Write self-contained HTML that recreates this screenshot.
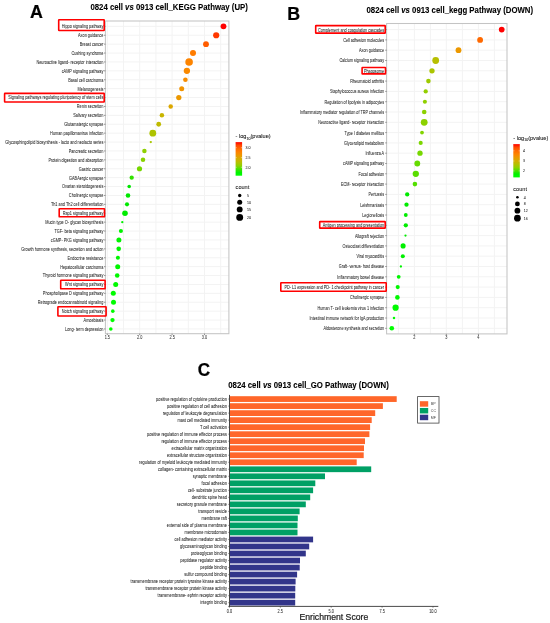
<!DOCTYPE html>
<html><head><meta charset="utf-8"><style>
html,body{margin:0;padding:0;background:#fff;}
body{width:550px;height:623px;overflow:hidden;font-family:"Liberation Sans",sans-serif;}
svg{display:block;}
</style></head><body>
<svg width="550" height="623" viewBox="0 0 550 623" font-family="Liberation Sans" >
<rect width="550" height="623" fill="#fff"/>
<defs><filter id="bl" x="0" y="0" width="550" height="623" filterUnits="userSpaceOnUse"><feGaussianBlur stdDeviation="0.5"/></filter></defs>
<g filter="url(#bl)">
<rect x="105.4" y="21.0" width="123.50" height="312.70" fill="#fff"/>
<line x1="123.5" y1="21.0" x2="123.5" y2="333.7" stroke="#f3f3f3" stroke-width="1.0"/>
<line x1="155.9" y1="21.0" x2="155.9" y2="333.7" stroke="#f3f3f3" stroke-width="1.0"/>
<line x1="188.3" y1="21.0" x2="188.3" y2="333.7" stroke="#f3f3f3" stroke-width="1.0"/>
<line x1="220.7" y1="21.0" x2="220.7" y2="333.7" stroke="#f3f3f3" stroke-width="1.0"/>
<line x1="107.3" y1="21.0" x2="107.3" y2="333.7" stroke="#f3f3f3" stroke-width="1.0"/>
<line x1="139.7" y1="21.0" x2="139.7" y2="333.7" stroke="#f3f3f3" stroke-width="1.0"/>
<line x1="172.1" y1="21.0" x2="172.1" y2="333.7" stroke="#f3f3f3" stroke-width="1.0"/>
<line x1="204.5" y1="21.0" x2="204.5" y2="333.7" stroke="#f3f3f3" stroke-width="1.0"/>
<line x1="105.4" y1="26.35" x2="228.9" y2="26.35" stroke="#f3f3f3" stroke-width="1.0"/>
<line x1="105.4" y1="35.25" x2="228.9" y2="35.25" stroke="#f3f3f3" stroke-width="1.0"/>
<line x1="105.4" y1="44.15" x2="228.9" y2="44.15" stroke="#f3f3f3" stroke-width="1.0"/>
<line x1="105.4" y1="53.05" x2="228.9" y2="53.05" stroke="#f3f3f3" stroke-width="1.0"/>
<line x1="105.4" y1="61.95" x2="228.9" y2="61.95" stroke="#f3f3f3" stroke-width="1.0"/>
<line x1="105.4" y1="70.85" x2="228.9" y2="70.85" stroke="#f3f3f3" stroke-width="1.0"/>
<line x1="105.4" y1="79.75" x2="228.9" y2="79.75" stroke="#f3f3f3" stroke-width="1.0"/>
<line x1="105.4" y1="88.65" x2="228.9" y2="88.65" stroke="#f3f3f3" stroke-width="1.0"/>
<line x1="105.4" y1="97.55" x2="228.9" y2="97.55" stroke="#f3f3f3" stroke-width="1.0"/>
<line x1="105.4" y1="106.45" x2="228.9" y2="106.45" stroke="#f3f3f3" stroke-width="1.0"/>
<line x1="105.4" y1="115.35" x2="228.9" y2="115.35" stroke="#f3f3f3" stroke-width="1.0"/>
<line x1="105.4" y1="124.25" x2="228.9" y2="124.25" stroke="#f3f3f3" stroke-width="1.0"/>
<line x1="105.4" y1="133.15" x2="228.9" y2="133.15" stroke="#f3f3f3" stroke-width="1.0"/>
<line x1="105.4" y1="142.05" x2="228.9" y2="142.05" stroke="#f3f3f3" stroke-width="1.0"/>
<line x1="105.4" y1="150.95" x2="228.9" y2="150.95" stroke="#f3f3f3" stroke-width="1.0"/>
<line x1="105.4" y1="159.85" x2="228.9" y2="159.85" stroke="#f3f3f3" stroke-width="1.0"/>
<line x1="105.4" y1="168.75" x2="228.9" y2="168.75" stroke="#f3f3f3" stroke-width="1.0"/>
<line x1="105.4" y1="177.65" x2="228.9" y2="177.65" stroke="#f3f3f3" stroke-width="1.0"/>
<line x1="105.4" y1="186.55" x2="228.9" y2="186.55" stroke="#f3f3f3" stroke-width="1.0"/>
<line x1="105.4" y1="195.45" x2="228.9" y2="195.45" stroke="#f3f3f3" stroke-width="1.0"/>
<line x1="105.4" y1="204.35" x2="228.9" y2="204.35" stroke="#f3f3f3" stroke-width="1.0"/>
<line x1="105.4" y1="213.25" x2="228.9" y2="213.25" stroke="#f3f3f3" stroke-width="1.0"/>
<line x1="105.4" y1="222.15" x2="228.9" y2="222.15" stroke="#f3f3f3" stroke-width="1.0"/>
<line x1="105.4" y1="231.05" x2="228.9" y2="231.05" stroke="#f3f3f3" stroke-width="1.0"/>
<line x1="105.4" y1="239.95" x2="228.9" y2="239.95" stroke="#f3f3f3" stroke-width="1.0"/>
<line x1="105.4" y1="248.85" x2="228.9" y2="248.85" stroke="#f3f3f3" stroke-width="1.0"/>
<line x1="105.4" y1="257.75" x2="228.9" y2="257.75" stroke="#f3f3f3" stroke-width="1.0"/>
<line x1="105.4" y1="266.65" x2="228.9" y2="266.65" stroke="#f3f3f3" stroke-width="1.0"/>
<line x1="105.4" y1="275.55" x2="228.9" y2="275.55" stroke="#f3f3f3" stroke-width="1.0"/>
<line x1="105.4" y1="284.45" x2="228.9" y2="284.45" stroke="#f3f3f3" stroke-width="1.0"/>
<line x1="105.4" y1="293.35" x2="228.9" y2="293.35" stroke="#f3f3f3" stroke-width="1.0"/>
<line x1="105.4" y1="302.25" x2="228.9" y2="302.25" stroke="#f3f3f3" stroke-width="1.0"/>
<line x1="105.4" y1="311.15" x2="228.9" y2="311.15" stroke="#f3f3f3" stroke-width="1.0"/>
<line x1="105.4" y1="320.05" x2="228.9" y2="320.05" stroke="#f3f3f3" stroke-width="1.0"/>
<line x1="105.4" y1="328.95" x2="228.9" y2="328.95" stroke="#f3f3f3" stroke-width="1.0"/>
<rect x="105.4" y="21.0" width="123.50" height="312.70" fill="none" stroke="#c4c4c4" stroke-width="1.05"/>
<line x1="104.00" y1="26.35" x2="105.4" y2="26.35" stroke="#333" stroke-width="0.5"/>
<text transform="translate(103.40 28.25) scale(0.8550 1)" font-size="4.503" text-anchor="end" fill="#222" stroke="#333" stroke-width="0.044">Hippo signaling pathway</text>
<line x1="104.00" y1="35.25" x2="105.4" y2="35.25" stroke="#333" stroke-width="0.5"/>
<text transform="translate(103.40 37.15) scale(0.8550 1)" font-size="4.503" text-anchor="end" fill="#222" stroke="#333" stroke-width="0.044">Axon guidance</text>
<line x1="104.00" y1="44.15" x2="105.4" y2="44.15" stroke="#333" stroke-width="0.5"/>
<text transform="translate(103.40 46.05) scale(0.8550 1)" font-size="4.503" text-anchor="end" fill="#222" stroke="#333" stroke-width="0.044">Breast cancer</text>
<line x1="104.00" y1="53.05" x2="105.4" y2="53.05" stroke="#333" stroke-width="0.5"/>
<text transform="translate(103.40 54.95) scale(0.8550 1)" font-size="4.503" text-anchor="end" fill="#222" stroke="#333" stroke-width="0.044">Cushing syndrome</text>
<line x1="104.00" y1="61.95" x2="105.4" y2="61.95" stroke="#333" stroke-width="0.5"/>
<text transform="translate(103.40 63.85) scale(0.8550 1)" font-size="4.503" text-anchor="end" fill="#222" stroke="#333" stroke-width="0.044">Neuroactive ligand- receptor interaction</text>
<line x1="104.00" y1="70.85" x2="105.4" y2="70.85" stroke="#333" stroke-width="0.5"/>
<text transform="translate(103.40 72.75) scale(0.8550 1)" font-size="4.503" text-anchor="end" fill="#222" stroke="#333" stroke-width="0.044">cAMP signaling pathway</text>
<line x1="104.00" y1="79.75" x2="105.4" y2="79.75" stroke="#333" stroke-width="0.5"/>
<text transform="translate(103.40 81.65) scale(0.8550 1)" font-size="4.503" text-anchor="end" fill="#222" stroke="#333" stroke-width="0.044">Basal cell carcinoma</text>
<line x1="104.00" y1="88.65" x2="105.4" y2="88.65" stroke="#333" stroke-width="0.5"/>
<text transform="translate(103.40 90.55) scale(0.8550 1)" font-size="4.503" text-anchor="end" fill="#222" stroke="#333" stroke-width="0.044">Melanogenesis</text>
<line x1="104.00" y1="97.55" x2="105.4" y2="97.55" stroke="#333" stroke-width="0.5"/>
<text transform="translate(103.40 99.45) scale(0.8550 1)" font-size="4.503" text-anchor="end" fill="#222" stroke="#333" stroke-width="0.044">Signaling pathways regulating pluripotency of stem cells</text>
<line x1="104.00" y1="106.45" x2="105.4" y2="106.45" stroke="#333" stroke-width="0.5"/>
<text transform="translate(103.40 108.35) scale(0.8550 1)" font-size="4.503" text-anchor="end" fill="#222" stroke="#333" stroke-width="0.044">Renin secretion</text>
<line x1="104.00" y1="115.35" x2="105.4" y2="115.35" stroke="#333" stroke-width="0.5"/>
<text transform="translate(103.40 117.25) scale(0.8550 1)" font-size="4.503" text-anchor="end" fill="#222" stroke="#333" stroke-width="0.044">Salivary secretion</text>
<line x1="104.00" y1="124.25" x2="105.4" y2="124.25" stroke="#333" stroke-width="0.5"/>
<text transform="translate(103.40 126.15) scale(0.8550 1)" font-size="4.503" text-anchor="end" fill="#222" stroke="#333" stroke-width="0.044">Glutamatergic synapse</text>
<line x1="104.00" y1="133.15" x2="105.4" y2="133.15" stroke="#333" stroke-width="0.5"/>
<text transform="translate(103.40 135.05) scale(0.8550 1)" font-size="4.503" text-anchor="end" fill="#222" stroke="#333" stroke-width="0.044">Human papillomavirus infection</text>
<line x1="104.00" y1="142.05" x2="105.4" y2="142.05" stroke="#333" stroke-width="0.5"/>
<text transform="translate(103.40 143.95) scale(0.8550 1)" font-size="4.503" text-anchor="end" fill="#222" stroke="#333" stroke-width="0.044">Glycosphingolipid biosynthesis -  lacto and neolacto series</text>
<line x1="104.00" y1="150.95" x2="105.4" y2="150.95" stroke="#333" stroke-width="0.5"/>
<text transform="translate(103.40 152.85) scale(0.8550 1)" font-size="4.503" text-anchor="end" fill="#222" stroke="#333" stroke-width="0.044">Pancreatic secretion</text>
<line x1="104.00" y1="159.85" x2="105.4" y2="159.85" stroke="#333" stroke-width="0.5"/>
<text transform="translate(103.40 161.75) scale(0.8550 1)" font-size="4.503" text-anchor="end" fill="#222" stroke="#333" stroke-width="0.044">Protein digestion and absorption</text>
<line x1="104.00" y1="168.75" x2="105.4" y2="168.75" stroke="#333" stroke-width="0.5"/>
<text transform="translate(103.40 170.65) scale(0.8550 1)" font-size="4.503" text-anchor="end" fill="#222" stroke="#333" stroke-width="0.044">Gastric cancer</text>
<line x1="104.00" y1="177.65" x2="105.4" y2="177.65" stroke="#333" stroke-width="0.5"/>
<text transform="translate(103.40 179.55) scale(0.8550 1)" font-size="4.503" text-anchor="end" fill="#222" stroke="#333" stroke-width="0.044">GABAergic synapse</text>
<line x1="104.00" y1="186.55" x2="105.4" y2="186.55" stroke="#333" stroke-width="0.5"/>
<text transform="translate(103.40 188.45) scale(0.8550 1)" font-size="4.503" text-anchor="end" fill="#222" stroke="#333" stroke-width="0.044">Ovarian steroidogenesis</text>
<line x1="104.00" y1="195.45" x2="105.4" y2="195.45" stroke="#333" stroke-width="0.5"/>
<text transform="translate(103.40 197.35) scale(0.8550 1)" font-size="4.503" text-anchor="end" fill="#222" stroke="#333" stroke-width="0.044">Cholinergic synapse</text>
<line x1="104.00" y1="204.35" x2="105.4" y2="204.35" stroke="#333" stroke-width="0.5"/>
<text transform="translate(103.40 206.25) scale(0.8550 1)" font-size="4.503" text-anchor="end" fill="#222" stroke="#333" stroke-width="0.044">Th1 and Th2 cell differentiation</text>
<line x1="104.00" y1="213.25" x2="105.4" y2="213.25" stroke="#333" stroke-width="0.5"/>
<text transform="translate(103.40 215.15) scale(0.8550 1)" font-size="4.503" text-anchor="end" fill="#222" stroke="#333" stroke-width="0.044">Rap1 signaling pathway</text>
<line x1="104.00" y1="222.15" x2="105.4" y2="222.15" stroke="#333" stroke-width="0.5"/>
<text transform="translate(103.40 224.05) scale(0.8550 1)" font-size="4.503" text-anchor="end" fill="#222" stroke="#333" stroke-width="0.044">Mucin type O- glycan biosynthesis</text>
<line x1="104.00" y1="231.05" x2="105.4" y2="231.05" stroke="#333" stroke-width="0.5"/>
<text transform="translate(103.40 232.95) scale(0.8550 1)" font-size="4.503" text-anchor="end" fill="#222" stroke="#333" stroke-width="0.044">TGF- beta signaling pathway</text>
<line x1="104.00" y1="239.95" x2="105.4" y2="239.95" stroke="#333" stroke-width="0.5"/>
<text transform="translate(103.40 241.85) scale(0.8550 1)" font-size="4.503" text-anchor="end" fill="#222" stroke="#333" stroke-width="0.044">cGMP- PKG signaling pathway</text>
<line x1="104.00" y1="248.85" x2="105.4" y2="248.85" stroke="#333" stroke-width="0.5"/>
<text transform="translate(103.40 250.75) scale(0.8550 1)" font-size="4.503" text-anchor="end" fill="#222" stroke="#333" stroke-width="0.044">Growth hormone synthesis, secretion and action</text>
<line x1="104.00" y1="257.75" x2="105.4" y2="257.75" stroke="#333" stroke-width="0.5"/>
<text transform="translate(103.40 259.65) scale(0.8550 1)" font-size="4.503" text-anchor="end" fill="#222" stroke="#333" stroke-width="0.044">Endocrine resistance</text>
<line x1="104.00" y1="266.65" x2="105.4" y2="266.65" stroke="#333" stroke-width="0.5"/>
<text transform="translate(103.40 268.55) scale(0.8550 1)" font-size="4.503" text-anchor="end" fill="#222" stroke="#333" stroke-width="0.044">Hepatocellular carcinoma</text>
<line x1="104.00" y1="275.55" x2="105.4" y2="275.55" stroke="#333" stroke-width="0.5"/>
<text transform="translate(103.40 277.45) scale(0.8550 1)" font-size="4.503" text-anchor="end" fill="#222" stroke="#333" stroke-width="0.044">Thyroid hormone signaling pathway</text>
<line x1="104.00" y1="284.45" x2="105.4" y2="284.45" stroke="#333" stroke-width="0.5"/>
<text transform="translate(103.40 286.35) scale(0.8550 1)" font-size="4.503" text-anchor="end" fill="#222" stroke="#333" stroke-width="0.044">Wnt signaling pathway</text>
<line x1="104.00" y1="293.35" x2="105.4" y2="293.35" stroke="#333" stroke-width="0.5"/>
<text transform="translate(103.40 295.25) scale(0.8550 1)" font-size="4.503" text-anchor="end" fill="#222" stroke="#333" stroke-width="0.044">Phospholipase D signaling pathway</text>
<line x1="104.00" y1="302.25" x2="105.4" y2="302.25" stroke="#333" stroke-width="0.5"/>
<text transform="translate(103.40 304.15) scale(0.8550 1)" font-size="4.503" text-anchor="end" fill="#222" stroke="#333" stroke-width="0.044">Retrograde endocannabinoid signaling</text>
<line x1="104.00" y1="311.15" x2="105.4" y2="311.15" stroke="#333" stroke-width="0.5"/>
<text transform="translate(103.40 313.05) scale(0.8550 1)" font-size="4.503" text-anchor="end" fill="#222" stroke="#333" stroke-width="0.044">Notch signaling pathway</text>
<line x1="104.00" y1="320.05" x2="105.4" y2="320.05" stroke="#333" stroke-width="0.5"/>
<text transform="translate(103.40 321.95) scale(0.8550 1)" font-size="4.503" text-anchor="end" fill="#222" stroke="#333" stroke-width="0.044">Amoebiasis</text>
<line x1="104.00" y1="328.95" x2="105.4" y2="328.95" stroke="#333" stroke-width="0.5"/>
<text transform="translate(103.40 330.85) scale(0.8550 1)" font-size="4.503" text-anchor="end" fill="#222" stroke="#333" stroke-width="0.044">Long- term depression</text>
<line x1="107.3" y1="333.7" x2="107.3" y2="335.09999999999997" stroke="#333" stroke-width="0.5"/>
<text transform="translate(107.30 339.10) scale(0.8550 1)" font-size="4.503" text-anchor="middle" fill="#333" stroke="#333" stroke-width="0.044">1.5</text>
<line x1="139.7" y1="333.7" x2="139.7" y2="335.09999999999997" stroke="#333" stroke-width="0.5"/>
<text transform="translate(139.70 339.10) scale(0.8550 1)" font-size="4.503" text-anchor="middle" fill="#333" stroke="#333" stroke-width="0.044">2.0</text>
<line x1="172.1" y1="333.7" x2="172.1" y2="335.09999999999997" stroke="#333" stroke-width="0.5"/>
<text transform="translate(172.10 339.10) scale(0.8550 1)" font-size="4.503" text-anchor="middle" fill="#333" stroke="#333" stroke-width="0.044">2.5</text>
<line x1="204.5" y1="333.7" x2="204.5" y2="335.09999999999997" stroke="#333" stroke-width="0.5"/>
<text transform="translate(204.50 339.10) scale(0.8550 1)" font-size="4.503" text-anchor="middle" fill="#333" stroke="#333" stroke-width="0.044">3.0</text>
<circle cx="223.5" cy="26.35" r="2.90" fill="#ff0000"/>
<circle cx="216.2" cy="35.25" r="3.10" fill="#ff3700"/>
<circle cx="206.0" cy="44.15" r="2.90" fill="#ff5c00"/>
<circle cx="193.0" cy="53.05" r="3.00" fill="#ff7c00"/>
<circle cx="189.1" cy="61.95" r="3.80" fill="#fd8400"/>
<circle cx="186.9" cy="70.85" r="3.15" fill="#fa8900"/>
<circle cx="185.4" cy="79.75" r="2.30" fill="#f78c00"/>
<circle cx="181.7" cy="88.65" r="2.50" fill="#f19300"/>
<circle cx="178.8" cy="97.55" r="2.65" fill="#ec9800"/>
<circle cx="170.7" cy="106.45" r="2.25" fill="#dca700"/>
<circle cx="161.9" cy="115.35" r="2.25" fill="#c8b500"/>
<circle cx="158.7" cy="124.25" r="2.40" fill="#bfba00"/>
<circle cx="152.8" cy="133.15" r="3.40" fill="#aec300"/>
<circle cx="150.8" cy="142.05" r="1.15" fill="#a7c600"/>
<circle cx="144.4" cy="150.95" r="2.25" fill="#8ed000"/>
<circle cx="143.0" cy="159.85" r="2.25" fill="#88d200"/>
<circle cx="139.5" cy="168.75" r="2.60" fill="#76d700"/>
<circle cx="131.7" cy="177.65" r="2.15" fill="#31e200"/>
<circle cx="129.2" cy="186.55" r="1.80" fill="#00e600"/>
<circle cx="128.0" cy="195.45" r="2.30" fill="#00e800"/>
<circle cx="127.0" cy="204.35" r="2.05" fill="#00e900"/>
<circle cx="125.0" cy="213.25" r="2.80" fill="#00ec00"/>
<circle cx="122.3" cy="222.15" r="1.15" fill="#00f000"/>
<circle cx="120.9" cy="231.05" r="2.05" fill="#00f200"/>
<circle cx="118.9" cy="239.95" r="2.50" fill="#00f400"/>
<circle cx="118.7" cy="248.85" r="2.30" fill="#00f500"/>
<circle cx="117.9" cy="257.75" r="2.05" fill="#00f600"/>
<circle cx="117.7" cy="266.65" r="2.50" fill="#00f600"/>
<circle cx="117.2" cy="275.55" r="2.30" fill="#00f700"/>
<circle cx="115.7" cy="284.45" r="2.50" fill="#00f900"/>
<circle cx="113.3" cy="293.35" r="2.50" fill="#00fc00"/>
<circle cx="113.5" cy="302.25" r="2.50" fill="#00fc00"/>
<circle cx="112.8" cy="311.15" r="1.80" fill="#00fd00"/>
<circle cx="112.5" cy="320.05" r="2.15" fill="#00fd00"/>
<circle cx="110.8" cy="328.95" r="1.80" fill="#00ff00"/>
<rect x="58.70" y="19.70" width="45.50" height="10.80" rx="0.4" fill="none" stroke="#ff0000" stroke-width="1.6"/>
<rect x="4.60" y="93.40" width="99.60" height="8.60" rx="0.4" fill="none" stroke="#ff0000" stroke-width="1.6"/>
<rect x="59.20" y="208.70" width="45.30" height="8.10" rx="0.4" fill="none" stroke="#ff0000" stroke-width="1.6"/>
<rect x="60.70" y="280.20" width="44.40" height="8.60" rx="0.4" fill="none" stroke="#ff0000" stroke-width="1.6"/>
<rect x="57.90" y="306.70" width="48.20" height="9.30" rx="0.4" fill="none" stroke="#ff0000" stroke-width="1.6"/>
<rect x="386.6" y="23.5" width="120.40" height="310.40" fill="#fff"/>
<line x1="398.4" y1="23.5" x2="398.4" y2="333.9" stroke="#f3f3f3" stroke-width="1.0"/>
<line x1="430.4" y1="23.5" x2="430.4" y2="333.9" stroke="#f3f3f3" stroke-width="1.0"/>
<line x1="462.4" y1="23.5" x2="462.4" y2="333.9" stroke="#f3f3f3" stroke-width="1.0"/>
<line x1="494.4" y1="23.5" x2="494.4" y2="333.9" stroke="#f3f3f3" stroke-width="1.0"/>
<line x1="414.4" y1="23.5" x2="414.4" y2="333.9" stroke="#f3f3f3" stroke-width="1.0"/>
<line x1="446.3" y1="23.5" x2="446.3" y2="333.9" stroke="#f3f3f3" stroke-width="1.0"/>
<line x1="478.4" y1="23.5" x2="478.4" y2="333.9" stroke="#f3f3f3" stroke-width="1.0"/>
<line x1="386.6" y1="29.60" x2="507.0" y2="29.60" stroke="#f3f3f3" stroke-width="1.0"/>
<line x1="386.6" y1="39.90" x2="507.0" y2="39.90" stroke="#f3f3f3" stroke-width="1.0"/>
<line x1="386.6" y1="50.20" x2="507.0" y2="50.20" stroke="#f3f3f3" stroke-width="1.0"/>
<line x1="386.6" y1="60.50" x2="507.0" y2="60.50" stroke="#f3f3f3" stroke-width="1.0"/>
<line x1="386.6" y1="70.80" x2="507.0" y2="70.80" stroke="#f3f3f3" stroke-width="1.0"/>
<line x1="386.6" y1="81.10" x2="507.0" y2="81.10" stroke="#f3f3f3" stroke-width="1.0"/>
<line x1="386.6" y1="91.40" x2="507.0" y2="91.40" stroke="#f3f3f3" stroke-width="1.0"/>
<line x1="386.6" y1="101.70" x2="507.0" y2="101.70" stroke="#f3f3f3" stroke-width="1.0"/>
<line x1="386.6" y1="112.00" x2="507.0" y2="112.00" stroke="#f3f3f3" stroke-width="1.0"/>
<line x1="386.6" y1="122.30" x2="507.0" y2="122.30" stroke="#f3f3f3" stroke-width="1.0"/>
<line x1="386.6" y1="132.60" x2="507.0" y2="132.60" stroke="#f3f3f3" stroke-width="1.0"/>
<line x1="386.6" y1="142.90" x2="507.0" y2="142.90" stroke="#f3f3f3" stroke-width="1.0"/>
<line x1="386.6" y1="153.20" x2="507.0" y2="153.20" stroke="#f3f3f3" stroke-width="1.0"/>
<line x1="386.6" y1="163.50" x2="507.0" y2="163.50" stroke="#f3f3f3" stroke-width="1.0"/>
<line x1="386.6" y1="173.80" x2="507.0" y2="173.80" stroke="#f3f3f3" stroke-width="1.0"/>
<line x1="386.6" y1="184.10" x2="507.0" y2="184.10" stroke="#f3f3f3" stroke-width="1.0"/>
<line x1="386.6" y1="194.40" x2="507.0" y2="194.40" stroke="#f3f3f3" stroke-width="1.0"/>
<line x1="386.6" y1="204.70" x2="507.0" y2="204.70" stroke="#f3f3f3" stroke-width="1.0"/>
<line x1="386.6" y1="215.00" x2="507.0" y2="215.00" stroke="#f3f3f3" stroke-width="1.0"/>
<line x1="386.6" y1="225.30" x2="507.0" y2="225.30" stroke="#f3f3f3" stroke-width="1.0"/>
<line x1="386.6" y1="235.60" x2="507.0" y2="235.60" stroke="#f3f3f3" stroke-width="1.0"/>
<line x1="386.6" y1="245.90" x2="507.0" y2="245.90" stroke="#f3f3f3" stroke-width="1.0"/>
<line x1="386.6" y1="256.20" x2="507.0" y2="256.20" stroke="#f3f3f3" stroke-width="1.0"/>
<line x1="386.6" y1="266.50" x2="507.0" y2="266.50" stroke="#f3f3f3" stroke-width="1.0"/>
<line x1="386.6" y1="276.80" x2="507.0" y2="276.80" stroke="#f3f3f3" stroke-width="1.0"/>
<line x1="386.6" y1="287.10" x2="507.0" y2="287.10" stroke="#f3f3f3" stroke-width="1.0"/>
<line x1="386.6" y1="297.40" x2="507.0" y2="297.40" stroke="#f3f3f3" stroke-width="1.0"/>
<line x1="386.6" y1="307.70" x2="507.0" y2="307.70" stroke="#f3f3f3" stroke-width="1.0"/>
<line x1="386.6" y1="318.00" x2="507.0" y2="318.00" stroke="#f3f3f3" stroke-width="1.0"/>
<line x1="386.6" y1="328.30" x2="507.0" y2="328.30" stroke="#f3f3f3" stroke-width="1.0"/>
<rect x="386.6" y="23.5" width="120.40" height="310.40" fill="none" stroke="#c4c4c4" stroke-width="1.05"/>
<line x1="385.20" y1="29.60" x2="386.6" y2="29.60" stroke="#333" stroke-width="0.5"/>
<text transform="translate(384.10 31.50) scale(0.8550 1)" font-size="4.433" text-anchor="end" fill="#222" stroke="#333" stroke-width="0.043">Complement and coagulation cascades</text>
<line x1="385.20" y1="39.90" x2="386.6" y2="39.90" stroke="#333" stroke-width="0.5"/>
<text transform="translate(384.10 41.80) scale(0.8550 1)" font-size="4.433" text-anchor="end" fill="#222" stroke="#333" stroke-width="0.043">Cell adhesion molecules</text>
<line x1="385.20" y1="50.20" x2="386.6" y2="50.20" stroke="#333" stroke-width="0.5"/>
<text transform="translate(384.10 52.10) scale(0.8550 1)" font-size="4.433" text-anchor="end" fill="#222" stroke="#333" stroke-width="0.043">Axon guidance</text>
<line x1="385.20" y1="60.50" x2="386.6" y2="60.50" stroke="#333" stroke-width="0.5"/>
<text transform="translate(384.10 62.40) scale(0.8550 1)" font-size="4.433" text-anchor="end" fill="#222" stroke="#333" stroke-width="0.043">Calcium signaling pathway</text>
<line x1="385.20" y1="70.80" x2="386.6" y2="70.80" stroke="#333" stroke-width="0.5"/>
<text transform="translate(384.10 72.70) scale(0.8550 1)" font-size="4.433" text-anchor="end" fill="#222" stroke="#333" stroke-width="0.043">Phagosome</text>
<line x1="385.20" y1="81.10" x2="386.6" y2="81.10" stroke="#333" stroke-width="0.5"/>
<text transform="translate(384.10 83.00) scale(0.8550 1)" font-size="4.433" text-anchor="end" fill="#222" stroke="#333" stroke-width="0.043">Rheumatoid arthritis</text>
<line x1="385.20" y1="91.40" x2="386.6" y2="91.40" stroke="#333" stroke-width="0.5"/>
<text transform="translate(384.10 93.30) scale(0.8550 1)" font-size="4.433" text-anchor="end" fill="#222" stroke="#333" stroke-width="0.043">Staphylococcus aureus infection</text>
<line x1="385.20" y1="101.70" x2="386.6" y2="101.70" stroke="#333" stroke-width="0.5"/>
<text transform="translate(384.10 103.60) scale(0.8550 1)" font-size="4.433" text-anchor="end" fill="#222" stroke="#333" stroke-width="0.043">Regulation of lipolysis in adipocytes</text>
<line x1="385.20" y1="112.00" x2="386.6" y2="112.00" stroke="#333" stroke-width="0.5"/>
<text transform="translate(384.10 113.90) scale(0.8550 1)" font-size="4.433" text-anchor="end" fill="#222" stroke="#333" stroke-width="0.043">Inflammatory mediator regulation of TRP channels</text>
<line x1="385.20" y1="122.30" x2="386.6" y2="122.30" stroke="#333" stroke-width="0.5"/>
<text transform="translate(384.10 124.20) scale(0.8550 1)" font-size="4.433" text-anchor="end" fill="#222" stroke="#333" stroke-width="0.043">Neuroactive ligand- receptor interaction</text>
<line x1="385.20" y1="132.60" x2="386.6" y2="132.60" stroke="#333" stroke-width="0.5"/>
<text transform="translate(384.10 134.50) scale(0.8550 1)" font-size="4.433" text-anchor="end" fill="#222" stroke="#333" stroke-width="0.043">Type I diabetes mellitus</text>
<line x1="385.20" y1="142.90" x2="386.6" y2="142.90" stroke="#333" stroke-width="0.5"/>
<text transform="translate(384.10 144.80) scale(0.8550 1)" font-size="4.433" text-anchor="end" fill="#222" stroke="#333" stroke-width="0.043">Glycerolipid metabolism</text>
<line x1="385.20" y1="153.20" x2="386.6" y2="153.20" stroke="#333" stroke-width="0.5"/>
<text transform="translate(384.10 155.10) scale(0.8550 1)" font-size="4.433" text-anchor="end" fill="#222" stroke="#333" stroke-width="0.043">Influenza A</text>
<line x1="385.20" y1="163.50" x2="386.6" y2="163.50" stroke="#333" stroke-width="0.5"/>
<text transform="translate(384.10 165.40) scale(0.8550 1)" font-size="4.433" text-anchor="end" fill="#222" stroke="#333" stroke-width="0.043">cAMP signaling pathway</text>
<line x1="385.20" y1="173.80" x2="386.6" y2="173.80" stroke="#333" stroke-width="0.5"/>
<text transform="translate(384.10 175.70) scale(0.8550 1)" font-size="4.433" text-anchor="end" fill="#222" stroke="#333" stroke-width="0.043">Focal adhesion</text>
<line x1="385.20" y1="184.10" x2="386.6" y2="184.10" stroke="#333" stroke-width="0.5"/>
<text transform="translate(384.10 186.00) scale(0.8550 1)" font-size="4.433" text-anchor="end" fill="#222" stroke="#333" stroke-width="0.043">ECM- receptor interaction</text>
<line x1="385.20" y1="194.40" x2="386.6" y2="194.40" stroke="#333" stroke-width="0.5"/>
<text transform="translate(384.10 196.30) scale(0.8550 1)" font-size="4.433" text-anchor="end" fill="#222" stroke="#333" stroke-width="0.043">Pertussis</text>
<line x1="385.20" y1="204.70" x2="386.6" y2="204.70" stroke="#333" stroke-width="0.5"/>
<text transform="translate(384.10 206.60) scale(0.8550 1)" font-size="4.433" text-anchor="end" fill="#222" stroke="#333" stroke-width="0.043">Leishmaniasis</text>
<line x1="385.20" y1="215.00" x2="386.6" y2="215.00" stroke="#333" stroke-width="0.5"/>
<text transform="translate(384.10 216.90) scale(0.8550 1)" font-size="4.433" text-anchor="end" fill="#222" stroke="#333" stroke-width="0.043">Legionellosis</text>
<line x1="385.20" y1="225.30" x2="386.6" y2="225.30" stroke="#333" stroke-width="0.5"/>
<text transform="translate(384.10 227.20) scale(0.8550 1)" font-size="4.433" text-anchor="end" fill="#222" stroke="#333" stroke-width="0.043">Antigen processing and presentation</text>
<line x1="385.20" y1="235.60" x2="386.6" y2="235.60" stroke="#333" stroke-width="0.5"/>
<text transform="translate(384.10 237.50) scale(0.8550 1)" font-size="4.433" text-anchor="end" fill="#222" stroke="#333" stroke-width="0.043">Allograft rejection</text>
<line x1="385.20" y1="245.90" x2="386.6" y2="245.90" stroke="#333" stroke-width="0.5"/>
<text transform="translate(384.10 247.80) scale(0.8550 1)" font-size="4.433" text-anchor="end" fill="#222" stroke="#333" stroke-width="0.043">Osteoclast differentiation</text>
<line x1="385.20" y1="256.20" x2="386.6" y2="256.20" stroke="#333" stroke-width="0.5"/>
<text transform="translate(384.10 258.10) scale(0.8550 1)" font-size="4.433" text-anchor="end" fill="#222" stroke="#333" stroke-width="0.043">Viral myocarditis</text>
<line x1="385.20" y1="266.50" x2="386.6" y2="266.50" stroke="#333" stroke-width="0.5"/>
<text transform="translate(384.10 268.40) scale(0.8550 1)" font-size="4.433" text-anchor="end" fill="#222" stroke="#333" stroke-width="0.043">Graft- versus- host disease</text>
<line x1="385.20" y1="276.80" x2="386.6" y2="276.80" stroke="#333" stroke-width="0.5"/>
<text transform="translate(384.10 278.70) scale(0.8550 1)" font-size="4.433" text-anchor="end" fill="#222" stroke="#333" stroke-width="0.043">Inflammatory bowel disease</text>
<line x1="385.20" y1="287.10" x2="386.6" y2="287.10" stroke="#333" stroke-width="0.5"/>
<text transform="translate(384.10 289.00) scale(0.8550 1)" font-size="4.433" text-anchor="end" fill="#222" stroke="#333" stroke-width="0.043">PD- L1 expression and PD- 1 checkpoint pathway in cancer</text>
<line x1="385.20" y1="297.40" x2="386.6" y2="297.40" stroke="#333" stroke-width="0.5"/>
<text transform="translate(384.10 299.30) scale(0.8550 1)" font-size="4.433" text-anchor="end" fill="#222" stroke="#333" stroke-width="0.043">Cholinergic synapse</text>
<line x1="385.20" y1="307.70" x2="386.6" y2="307.70" stroke="#333" stroke-width="0.5"/>
<text transform="translate(384.10 309.60) scale(0.8550 1)" font-size="4.433" text-anchor="end" fill="#222" stroke="#333" stroke-width="0.043">Human T- cell leukemia virus 1 infection</text>
<line x1="385.20" y1="318.00" x2="386.6" y2="318.00" stroke="#333" stroke-width="0.5"/>
<text transform="translate(384.10 319.90) scale(0.8550 1)" font-size="4.433" text-anchor="end" fill="#222" stroke="#333" stroke-width="0.043">Intestinal immune network for IgA production</text>
<line x1="385.20" y1="328.30" x2="386.6" y2="328.30" stroke="#333" stroke-width="0.5"/>
<text transform="translate(384.10 330.20) scale(0.8550 1)" font-size="4.433" text-anchor="end" fill="#222" stroke="#333" stroke-width="0.043">Aldosterone synthesis and secretion</text>
<line x1="414.4" y1="333.9" x2="414.4" y2="335.29999999999995" stroke="#333" stroke-width="0.5"/>
<text transform="translate(414.40 339.10) scale(0.8550 1)" font-size="4.503" text-anchor="middle" fill="#333" stroke="#333" stroke-width="0.044">2</text>
<line x1="446.3" y1="333.9" x2="446.3" y2="335.29999999999995" stroke="#333" stroke-width="0.5"/>
<text transform="translate(446.30 339.10) scale(0.8550 1)" font-size="4.503" text-anchor="middle" fill="#333" stroke="#333" stroke-width="0.044">3</text>
<line x1="478.4" y1="333.9" x2="478.4" y2="335.29999999999995" stroke="#333" stroke-width="0.5"/>
<text transform="translate(478.40 339.10) scale(0.8550 1)" font-size="4.503" text-anchor="middle" fill="#333" stroke="#333" stroke-width="0.044">4</text>
<circle cx="501.7" cy="29.60" r="2.85" fill="#ff0000"/>
<circle cx="480.1" cy="39.90" r="2.90" fill="#ff6900"/>
<circle cx="458.5" cy="50.20" r="2.90" fill="#ec9800"/>
<circle cx="435.7" cy="60.50" r="3.40" fill="#b7bf00"/>
<circle cx="432.0" cy="70.80" r="2.65" fill="#abc500"/>
<circle cx="428.4" cy="81.10" r="2.30" fill="#9eca00"/>
<circle cx="425.7" cy="91.40" r="2.15" fill="#93ce00"/>
<circle cx="424.9" cy="101.70" r="2.05" fill="#8fd000"/>
<circle cx="424.2" cy="112.00" r="2.30" fill="#8cd100"/>
<circle cx="424.2" cy="122.30" r="3.40" fill="#8cd100"/>
<circle cx="422.0" cy="132.60" r="1.90" fill="#82d400"/>
<circle cx="420.7" cy="142.90" r="2.05" fill="#7bd600"/>
<circle cx="420.0" cy="153.20" r="2.65" fill="#77d700"/>
<circle cx="417.3" cy="163.50" r="2.90" fill="#65db00"/>
<circle cx="415.8" cy="173.80" r="3.15" fill="#5add00"/>
<circle cx="414.9" cy="184.10" r="2.30" fill="#52df00"/>
<circle cx="407.2" cy="194.40" r="2.15" fill="#00ea00"/>
<circle cx="406.5" cy="204.70" r="2.15" fill="#00eb00"/>
<circle cx="405.8" cy="215.00" r="1.90" fill="#00ec00"/>
<circle cx="405.8" cy="225.30" r="2.15" fill="#00ec00"/>
<circle cx="405.5" cy="235.60" r="1.15" fill="#00ec00"/>
<circle cx="403.1" cy="245.90" r="2.55" fill="#00f000"/>
<circle cx="402.8" cy="256.20" r="2.05" fill="#00f000"/>
<circle cx="400.9" cy="266.50" r="1.15" fill="#00f300"/>
<circle cx="398.7" cy="276.80" r="1.90" fill="#00f600"/>
<circle cx="397.7" cy="287.10" r="2.05" fill="#00f700"/>
<circle cx="397.4" cy="297.40" r="2.30" fill="#00f800"/>
<circle cx="395.6" cy="307.70" r="3.10" fill="#00fa00"/>
<circle cx="394.0" cy="318.00" r="1.25" fill="#00fc00"/>
<circle cx="391.8" cy="328.30" r="2.30" fill="#00ff00"/>
<rect x="315.70" y="25.60" width="69.50" height="7.50" rx="0.4" fill="none" stroke="#ff0000" stroke-width="1.6"/>
<rect x="362.10" y="67.50" width="23.40" height="6.40" rx="0.4" fill="none" stroke="#ff0000" stroke-width="1.6"/>
<rect x="319.70" y="221.60" width="65.50" height="6.50" rx="0.4" fill="none" stroke="#ff0000" stroke-width="1.6"/>
<rect x="280.80" y="282.70" width="105.40" height="8.50" rx="0.4" fill="none" stroke="#ff0000" stroke-width="1.6"/>
<text transform="translate(235.6 138.30) scale(0.93 1)" font-size="6.022" fill="#111" stroke="#111" stroke-width="0.074">- log<tspan font-size="3.871" dy="1.2">10</tspan><tspan dy="-1.2">(pvalue)</tspan></text>
<defs><linearGradient id="g235" x1="0" y1="0" x2="0" y2="1"><stop offset="0.0" stop-color="#ff0000"/><stop offset="0.1" stop-color="#ff4900"/><stop offset="0.2" stop-color="#ff6a00"/><stop offset="0.3" stop-color="#fe8300"/><stop offset="0.4" stop-color="#eb9900"/><stop offset="0.5" stop-color="#d4ad00"/><stop offset="0.6" stop-color="#b7bf00"/><stop offset="0.7" stop-color="#90d000"/><stop offset="0.8" stop-color="#48e000"/><stop offset="0.9" stop-color="#00f000"/><stop offset="1.0" stop-color="#00ff00"/></linearGradient></defs>
<rect x="235.6" y="142.1" width="6.50" height="33.60" fill="url(#g235)"/>
<line x1="235.6" y1="147.7" x2="236.80" y2="147.7" stroke="#fff" stroke-width="0.4"/>
<line x1="240.90" y1="147.7" x2="242.1" y2="147.7" stroke="#fff" stroke-width="0.4"/>
<text transform="translate(245.40 149.15) scale(0.9300 1)" font-size="3.871" fill="#222" stroke="#333" stroke-width="0.038">3.0</text>
<line x1="235.6" y1="157.6" x2="236.80" y2="157.6" stroke="#fff" stroke-width="0.4"/>
<line x1="240.90" y1="157.6" x2="242.1" y2="157.6" stroke="#fff" stroke-width="0.4"/>
<text transform="translate(245.40 159.05) scale(0.9300 1)" font-size="3.871" fill="#222" stroke="#333" stroke-width="0.038">2.5</text>
<line x1="235.6" y1="167.3" x2="236.80" y2="167.3" stroke="#fff" stroke-width="0.4"/>
<line x1="240.90" y1="167.3" x2="242.1" y2="167.3" stroke="#fff" stroke-width="0.4"/>
<text transform="translate(245.40 168.75) scale(0.9300 1)" font-size="3.871" fill="#222" stroke="#333" stroke-width="0.038">2.0</text>
<text transform="translate(235.60 189.20) scale(0.9300 1)" font-size="6.022" fill="#111" stroke="#333" stroke-width="0.059">count</text>
<circle cx="239.70" cy="195.5" r="1.70" fill="#000"/>
<text transform="translate(246.90 196.95) scale(0.9300 1)" font-size="3.871" fill="#222" stroke="#333" stroke-width="0.038">5</text>
<circle cx="239.70" cy="202.3" r="2.50" fill="#000"/>
<text transform="translate(246.90 203.75) scale(0.9300 1)" font-size="3.871" fill="#222" stroke="#333" stroke-width="0.038">10</text>
<circle cx="239.70" cy="209.4" r="2.95" fill="#000"/>
<text transform="translate(246.90 210.85) scale(0.9300 1)" font-size="3.871" fill="#222" stroke="#333" stroke-width="0.038">15</text>
<circle cx="239.70" cy="217.4" r="3.45" fill="#000"/>
<text transform="translate(246.90 218.85) scale(0.9300 1)" font-size="3.871" fill="#222" stroke="#333" stroke-width="0.038">20</text>
<text transform="translate(513.3 140.20) scale(0.93 1)" font-size="6.022" fill="#111" stroke="#111" stroke-width="0.074">- log<tspan font-size="3.871" dy="1.2">10</tspan><tspan dy="-1.2">(pvalue)</tspan></text>
<defs><linearGradient id="g513" x1="0" y1="0" x2="0" y2="1"><stop offset="0.0" stop-color="#ff0000"/><stop offset="0.1" stop-color="#ff4900"/><stop offset="0.2" stop-color="#ff6a00"/><stop offset="0.3" stop-color="#fe8300"/><stop offset="0.4" stop-color="#eb9900"/><stop offset="0.5" stop-color="#d4ad00"/><stop offset="0.6" stop-color="#b7bf00"/><stop offset="0.7" stop-color="#90d000"/><stop offset="0.8" stop-color="#48e000"/><stop offset="0.9" stop-color="#00f000"/><stop offset="1.0" stop-color="#00ff00"/></linearGradient></defs>
<rect x="513.3" y="144.1" width="6.50" height="33.30" fill="url(#g513)"/>
<line x1="513.3" y1="150.8" x2="514.50" y2="150.8" stroke="#fff" stroke-width="0.4"/>
<line x1="518.60" y1="150.8" x2="519.8" y2="150.8" stroke="#fff" stroke-width="0.4"/>
<text transform="translate(523.10 152.25) scale(0.9300 1)" font-size="3.871" fill="#222" stroke="#333" stroke-width="0.038">4</text>
<line x1="513.3" y1="161.0" x2="514.50" y2="161.0" stroke="#fff" stroke-width="0.4"/>
<line x1="518.60" y1="161.0" x2="519.8" y2="161.0" stroke="#fff" stroke-width="0.4"/>
<text transform="translate(523.10 162.45) scale(0.9300 1)" font-size="3.871" fill="#222" stroke="#333" stroke-width="0.038">3</text>
<line x1="513.3" y1="170.9" x2="514.50" y2="170.9" stroke="#fff" stroke-width="0.4"/>
<line x1="518.60" y1="170.9" x2="519.8" y2="170.9" stroke="#fff" stroke-width="0.4"/>
<text transform="translate(523.10 172.35) scale(0.9300 1)" font-size="3.871" fill="#222" stroke="#333" stroke-width="0.038">2</text>
<text transform="translate(513.30 191.10) scale(0.9300 1)" font-size="6.022" fill="#111" stroke="#333" stroke-width="0.059">count</text>
<circle cx="517.40" cy="197.3" r="1.30" fill="#000"/>
<text transform="translate(523.80 198.75) scale(0.9300 1)" font-size="3.871" fill="#222" stroke="#333" stroke-width="0.038">4</text>
<circle cx="517.40" cy="203.9" r="2.40" fill="#000"/>
<text transform="translate(523.80 205.35) scale(0.9300 1)" font-size="3.871" fill="#222" stroke="#333" stroke-width="0.038">8</text>
<circle cx="517.40" cy="210.7" r="2.90" fill="#000"/>
<text transform="translate(523.80 212.15) scale(0.9300 1)" font-size="3.871" fill="#222" stroke="#333" stroke-width="0.038">12</text>
<circle cx="517.40" cy="218.2" r="3.35" fill="#000"/>
<text transform="translate(523.80 219.65) scale(0.9300 1)" font-size="3.871" fill="#222" stroke="#333" stroke-width="0.038">16</text>
<text transform="translate(90.40 10.30) scale(0.9000 1)" font-size="8.689" font-weight="bold" fill="#000" stroke="#000" stroke-width="0.106">0824 cell <tspan font-style="italic">vs</tspan> 0913 cell_KEGG Pathway (UP)</text>
<text transform="translate(366.50 12.90) scale(0.9000 1)" font-size="8.689" font-weight="bold" fill="#000" stroke="#000" stroke-width="0.106">0824 cell <tspan font-style="italic">vs</tspan> 0913 cell_kegg Pathway (DOWN)</text>
<text transform="translate(228.20 388.20) scale(0.9000 1)" font-size="8.689" font-weight="bold" fill="#000" stroke="#000" stroke-width="0.106">0824 cell <tspan font-style="italic">vs</tspan> 0913 cell_GO Pathway (DOWN)</text>
<text transform="translate(30.00 18.40) scale(0.9700 1)" font-size="18.400" font-weight="bold" fill="#000" stroke="#000" stroke-width="0.225">A</text>
<text transform="translate(287.30 20.20) scale(0.9700 1)" font-size="18.400" font-weight="bold" fill="#000" stroke="#000" stroke-width="0.225">B</text>
<text transform="translate(197.70 375.70) scale(0.9300 1)" font-size="18.400" font-weight="bold" fill="#000" stroke="#000" stroke-width="0.225">C</text>
<rect x="229.9" y="396.20" width="166.80" height="5.75" fill="#ff6629"/>
<line x1="228.20" y1="399.07" x2="229.5" y2="399.07" stroke="#333" stroke-width="0.5"/>
<text transform="translate(226.90 400.88) scale(0.8550 1)" font-size="4.596" text-anchor="end" fill="#222" stroke="#333" stroke-width="0.045">positive regulation of cytokine production</text>
<rect x="229.9" y="403.22" width="153.00" height="5.75" fill="#ff6629"/>
<line x1="228.20" y1="406.09" x2="229.5" y2="406.09" stroke="#333" stroke-width="0.5"/>
<text transform="translate(226.90 407.89) scale(0.8550 1)" font-size="4.596" text-anchor="end" fill="#222" stroke="#333" stroke-width="0.045">positive regulation of cell adhesion</text>
<rect x="229.9" y="410.24" width="145.30" height="5.75" fill="#ff6629"/>
<line x1="228.20" y1="413.12" x2="229.5" y2="413.12" stroke="#333" stroke-width="0.5"/>
<text transform="translate(226.90 414.92) scale(0.8550 1)" font-size="4.596" text-anchor="end" fill="#222" stroke="#333" stroke-width="0.045">regulation of leukocyte degranulation</text>
<rect x="229.9" y="417.26" width="141.80" height="5.75" fill="#ff6629"/>
<line x1="228.20" y1="420.13" x2="229.5" y2="420.13" stroke="#333" stroke-width="0.5"/>
<text transform="translate(226.90 421.94) scale(0.8550 1)" font-size="4.596" text-anchor="end" fill="#222" stroke="#333" stroke-width="0.045">mast cell mediated immunity</text>
<rect x="229.9" y="424.28" width="140.20" height="5.75" fill="#ff6629"/>
<line x1="228.20" y1="427.15" x2="229.5" y2="427.15" stroke="#333" stroke-width="0.5"/>
<text transform="translate(226.90 428.95) scale(0.8550 1)" font-size="4.596" text-anchor="end" fill="#222" stroke="#333" stroke-width="0.045">T cell activation</text>
<rect x="229.9" y="431.30" width="139.50" height="5.75" fill="#ff6629"/>
<line x1="228.20" y1="434.17" x2="229.5" y2="434.17" stroke="#333" stroke-width="0.5"/>
<text transform="translate(226.90 435.97) scale(0.8550 1)" font-size="4.596" text-anchor="end" fill="#222" stroke="#333" stroke-width="0.045">positive regulation of immune effector process</text>
<rect x="229.9" y="438.32" width="135.10" height="5.75" fill="#ff6629"/>
<line x1="228.20" y1="441.19" x2="229.5" y2="441.19" stroke="#333" stroke-width="0.5"/>
<text transform="translate(226.90 443.00) scale(0.8550 1)" font-size="4.596" text-anchor="end" fill="#222" stroke="#333" stroke-width="0.045">regulation of immune effector process</text>
<rect x="229.9" y="445.34" width="134.10" height="5.75" fill="#ff6629"/>
<line x1="228.20" y1="448.21" x2="229.5" y2="448.21" stroke="#333" stroke-width="0.5"/>
<text transform="translate(226.90 450.01) scale(0.8550 1)" font-size="4.596" text-anchor="end" fill="#222" stroke="#333" stroke-width="0.045">extracellular matrix organization</text>
<rect x="229.9" y="452.36" width="133.80" height="5.75" fill="#ff6629"/>
<line x1="228.20" y1="455.24" x2="229.5" y2="455.24" stroke="#333" stroke-width="0.5"/>
<text transform="translate(226.90 457.04) scale(0.8550 1)" font-size="4.596" text-anchor="end" fill="#222" stroke="#333" stroke-width="0.045">extracellular structure organization</text>
<rect x="229.9" y="459.38" width="126.80" height="5.75" fill="#ff6629"/>
<line x1="228.20" y1="462.25" x2="229.5" y2="462.25" stroke="#333" stroke-width="0.5"/>
<text transform="translate(226.90 464.06) scale(0.8550 1)" font-size="4.596" text-anchor="end" fill="#222" stroke="#333" stroke-width="0.045">regulation of myeloid leukocyte mediated immunity</text>
<rect x="229.9" y="466.40" width="141.30" height="5.75" fill="#04a065"/>
<line x1="228.20" y1="469.27" x2="229.5" y2="469.27" stroke="#333" stroke-width="0.5"/>
<text transform="translate(226.90 471.07) scale(0.8550 1)" font-size="4.596" text-anchor="end" fill="#222" stroke="#333" stroke-width="0.045">collagen- containing extracellular matrix</text>
<rect x="229.9" y="473.42" width="95.10" height="5.75" fill="#04a065"/>
<line x1="228.20" y1="476.29" x2="229.5" y2="476.29" stroke="#333" stroke-width="0.5"/>
<text transform="translate(226.90 478.09) scale(0.8550 1)" font-size="4.596" text-anchor="end" fill="#222" stroke="#333" stroke-width="0.045">synaptic membrane</text>
<rect x="229.9" y="480.44" width="85.40" height="5.75" fill="#04a065"/>
<line x1="228.20" y1="483.31" x2="229.5" y2="483.31" stroke="#333" stroke-width="0.5"/>
<text transform="translate(226.90 485.12) scale(0.8550 1)" font-size="4.596" text-anchor="end" fill="#222" stroke="#333" stroke-width="0.045">focal adhesion</text>
<rect x="229.9" y="487.46" width="83.20" height="5.75" fill="#04a065"/>
<line x1="228.20" y1="490.33" x2="229.5" y2="490.33" stroke="#333" stroke-width="0.5"/>
<text transform="translate(226.90 492.13) scale(0.8550 1)" font-size="4.596" text-anchor="end" fill="#222" stroke="#333" stroke-width="0.045">cell- substrate junction</text>
<rect x="229.9" y="494.48" width="80.30" height="5.75" fill="#04a065"/>
<line x1="228.20" y1="497.36" x2="229.5" y2="497.36" stroke="#333" stroke-width="0.5"/>
<text transform="translate(226.90 499.16) scale(0.8550 1)" font-size="4.596" text-anchor="end" fill="#222" stroke="#333" stroke-width="0.045">dendritic spine head</text>
<rect x="229.9" y="501.50" width="75.90" height="5.75" fill="#04a065"/>
<line x1="228.20" y1="504.38" x2="229.5" y2="504.38" stroke="#333" stroke-width="0.5"/>
<text transform="translate(226.90 506.18) scale(0.8550 1)" font-size="4.596" text-anchor="end" fill="#222" stroke="#333" stroke-width="0.045">secretory granule membrane</text>
<rect x="229.9" y="508.52" width="69.70" height="5.75" fill="#04a065"/>
<line x1="228.20" y1="511.39" x2="229.5" y2="511.39" stroke="#333" stroke-width="0.5"/>
<text transform="translate(226.90 513.19) scale(0.8550 1)" font-size="4.596" text-anchor="end" fill="#222" stroke="#333" stroke-width="0.045">transport vesicle</text>
<rect x="229.9" y="515.54" width="67.90" height="5.75" fill="#04a065"/>
<line x1="228.20" y1="518.41" x2="229.5" y2="518.41" stroke="#333" stroke-width="0.5"/>
<text transform="translate(226.90 520.21) scale(0.8550 1)" font-size="4.596" text-anchor="end" fill="#222" stroke="#333" stroke-width="0.045">membrane raft</text>
<rect x="229.9" y="522.56" width="67.60" height="5.75" fill="#04a065"/>
<line x1="228.20" y1="525.43" x2="229.5" y2="525.43" stroke="#333" stroke-width="0.5"/>
<text transform="translate(226.90 527.23) scale(0.8550 1)" font-size="4.596" text-anchor="end" fill="#222" stroke="#333" stroke-width="0.045">external side of plasma membrane</text>
<rect x="229.9" y="529.58" width="67.60" height="5.75" fill="#04a065"/>
<line x1="228.20" y1="532.45" x2="229.5" y2="532.45" stroke="#333" stroke-width="0.5"/>
<text transform="translate(226.90 534.25) scale(0.8550 1)" font-size="4.596" text-anchor="end" fill="#222" stroke="#333" stroke-width="0.045">membrane microdomain</text>
<rect x="229.9" y="536.60" width="83.20" height="5.75" fill="#33348a"/>
<line x1="228.20" y1="539.47" x2="229.5" y2="539.47" stroke="#333" stroke-width="0.5"/>
<text transform="translate(226.90 541.27) scale(0.8550 1)" font-size="4.596" text-anchor="end" fill="#222" stroke="#333" stroke-width="0.045">cell adhesion mediator activity</text>
<rect x="229.9" y="543.62" width="79.30" height="5.75" fill="#33348a"/>
<line x1="228.20" y1="546.50" x2="229.5" y2="546.50" stroke="#333" stroke-width="0.5"/>
<text transform="translate(226.90 548.29) scale(0.8550 1)" font-size="4.596" text-anchor="end" fill="#222" stroke="#333" stroke-width="0.045">glycosaminoglycan binding</text>
<rect x="229.9" y="550.64" width="75.90" height="5.75" fill="#33348a"/>
<line x1="228.20" y1="553.51" x2="229.5" y2="553.51" stroke="#333" stroke-width="0.5"/>
<text transform="translate(226.90 555.31) scale(0.8550 1)" font-size="4.596" text-anchor="end" fill="#222" stroke="#333" stroke-width="0.045">proteoglycan binding</text>
<rect x="229.9" y="557.66" width="70.10" height="5.75" fill="#33348a"/>
<line x1="228.20" y1="560.53" x2="229.5" y2="560.53" stroke="#333" stroke-width="0.5"/>
<text transform="translate(226.90 562.33) scale(0.8550 1)" font-size="4.596" text-anchor="end" fill="#222" stroke="#333" stroke-width="0.045">peptidase regulator activity</text>
<rect x="229.9" y="564.68" width="69.80" height="5.75" fill="#33348a"/>
<line x1="228.20" y1="567.55" x2="229.5" y2="567.55" stroke="#333" stroke-width="0.5"/>
<text transform="translate(226.90 569.35) scale(0.8550 1)" font-size="4.596" text-anchor="end" fill="#222" stroke="#333" stroke-width="0.045">peptide binding</text>
<rect x="229.9" y="571.70" width="67.20" height="5.75" fill="#33348a"/>
<line x1="228.20" y1="574.58" x2="229.5" y2="574.58" stroke="#333" stroke-width="0.5"/>
<text transform="translate(226.90 576.38) scale(0.8550 1)" font-size="4.596" text-anchor="end" fill="#222" stroke="#333" stroke-width="0.045">sulfur compound binding</text>
<rect x="229.9" y="578.72" width="65.70" height="5.75" fill="#33348a"/>
<line x1="228.20" y1="581.60" x2="229.5" y2="581.60" stroke="#333" stroke-width="0.5"/>
<text transform="translate(226.90 583.39) scale(0.8550 1)" font-size="4.596" text-anchor="end" fill="#222" stroke="#333" stroke-width="0.045">transmembrane receptor protein tyrosine kinase activity</text>
<rect x="229.9" y="585.74" width="65.40" height="5.75" fill="#33348a"/>
<line x1="228.20" y1="588.62" x2="229.5" y2="588.62" stroke="#333" stroke-width="0.5"/>
<text transform="translate(226.90 590.41) scale(0.8550 1)" font-size="4.596" text-anchor="end" fill="#222" stroke="#333" stroke-width="0.045">transmembrane receptor protein kinase activity</text>
<rect x="229.9" y="592.76" width="65.30" height="5.75" fill="#33348a"/>
<line x1="228.20" y1="595.63" x2="229.5" y2="595.63" stroke="#333" stroke-width="0.5"/>
<text transform="translate(226.90 597.43) scale(0.8550 1)" font-size="4.596" text-anchor="end" fill="#222" stroke="#333" stroke-width="0.045">transmembrane- ephrin receptor activity</text>
<rect x="229.9" y="599.78" width="65.30" height="5.75" fill="#33348a"/>
<line x1="228.20" y1="602.65" x2="229.5" y2="602.65" stroke="#333" stroke-width="0.5"/>
<text transform="translate(226.90 604.45) scale(0.8550 1)" font-size="4.596" text-anchor="end" fill="#222" stroke="#333" stroke-width="0.045">integrin binding</text>
<line x1="229.5" y1="394.9" x2="229.5" y2="606.4" stroke="#333" stroke-width="0.9"/>
<line x1="228.4" y1="606.4" x2="438.3" y2="606.4" stroke="#333" stroke-width="0.9"/>
<line x1="229.40" y1="606.4" x2="229.40" y2="607.8" stroke="#333" stroke-width="0.5"/>
<text transform="translate(229.40 613.20) scale(0.8550 1)" font-size="4.561" text-anchor="middle" fill="#333" stroke="#333" stroke-width="0.045">0.0</text>
<line x1="280.30" y1="606.4" x2="280.30" y2="607.8" stroke="#333" stroke-width="0.5"/>
<text transform="translate(280.30 613.20) scale(0.8550 1)" font-size="4.561" text-anchor="middle" fill="#333" stroke="#333" stroke-width="0.045">2.5</text>
<line x1="331.20" y1="606.4" x2="331.20" y2="607.8" stroke="#333" stroke-width="0.5"/>
<text transform="translate(331.20 613.20) scale(0.8550 1)" font-size="4.561" text-anchor="middle" fill="#333" stroke="#333" stroke-width="0.045">5.0</text>
<line x1="382.10" y1="606.4" x2="382.10" y2="607.8" stroke="#333" stroke-width="0.5"/>
<text transform="translate(382.10 613.20) scale(0.8550 1)" font-size="4.561" text-anchor="middle" fill="#333" stroke="#333" stroke-width="0.045">7.5</text>
<line x1="433.00" y1="606.4" x2="433.00" y2="607.8" stroke="#333" stroke-width="0.5"/>
<text transform="translate(433.00 613.20) scale(0.8550 1)" font-size="4.561" text-anchor="middle" fill="#333" stroke="#333" stroke-width="0.045">10.0</text>
<text transform="translate(299.40 620.00) scale(0.9200 1)" font-size="9.435" fill="#1a1a1a" stroke="#1a1a1a" stroke-width="0.230">Enrichment Score</text>
<rect x="417.6" y="396.6" width="21.4" height="26.5" fill="#fff" stroke="#444" stroke-width="0.8"/>
<rect x="419.9" y="401.20" width="8.3" height="5.5" fill="#ff6629"/>
<text transform="translate(430.80 405.40) scale(0.8550 1)" font-size="4.211" fill="#444">BP</text>
<rect x="419.9" y="407.95" width="8.3" height="5.5" fill="#04a065"/>
<text transform="translate(430.80 412.15) scale(0.8550 1)" font-size="4.211" fill="#444">CC</text>
<rect x="419.9" y="414.70" width="8.3" height="5.5" fill="#33348a"/>
<text transform="translate(430.80 418.90) scale(0.8550 1)" font-size="4.211" fill="#444">MF</text>
</g>
</svg>
</body></html>
